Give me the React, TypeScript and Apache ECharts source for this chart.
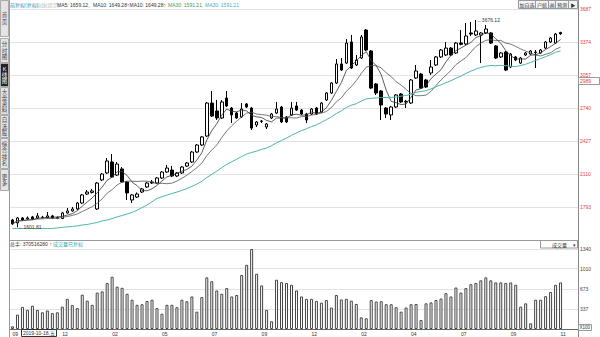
import React, { useEffect, useRef } from "react";
import * as echarts from "echarts";

// ---------- data ----------
// [open, close, low, high] per week
const candles: number[][] = [
  [1672, 1634, 1624, 1682], [1644, 1691, 1602, 1701], [1691, 1672, 1663, 1701], [1682, 1691, 1672, 1706],
  [1701, 1682, 1672, 1711], [1691, 1711, 1682, 1739], [1699, 1696, 1688, 1711], [1695, 1711, 1688, 1748],
  [1711, 1691, 1682, 1720], [1689, 1694, 1680, 1706], [1686, 1739, 1680, 1750], [1739, 1758, 1733, 1786],
  [1758, 1777, 1750, 1796], [1777, 1834, 1767, 1844], [1834, 1911, 1825, 1920], [1920, 1939, 1911, 1958],
  [1935, 1949, 1925, 1968], [1777, 2025, 1767, 2035], [2054, 2111, 2044, 2121], [2121, 2235, 2111, 2264],
  [2226, 2082, 2073, 2302], [2101, 2206, 2092, 2226], [2159, 2035, 2025, 2178], [2035, 1930, 1863, 2044],
  [1863, 1911, 1834, 1920], [1891, 1920, 1882, 1935], [1939, 1968, 1930, 1977], [1987, 2025, 1977, 2035],
  [2035, 2025, 2016, 2054], [2025, 2073, 2016, 2082], [2073, 2130, 2063, 2140], [2130, 2168, 2121, 2197],
  [2149, 2092, 2082, 2187], [2092, 2121, 2082, 2130], [2121, 2178, 2111, 2187], [2187, 2216, 2178, 2226],
  [2226, 2321, 2216, 2331], [2321, 2388, 2312, 2398], [2388, 2465, 2378, 2474], [2474, 2789, 2465, 2799],
  [2789, 2665, 2656, 2904], [2713, 2646, 2627, 2818], [2646, 2799, 2636, 2818], [2837, 2761, 2751, 2904],
  [2741, 2675, 2598, 2751], [2694, 2646, 2636, 2703], [2656, 2732, 2646, 2789], [2780, 2751, 2741, 2789],
  [2741, 2550, 2531, 2751], [2579, 2608, 2560, 2617], [2617, 2615, 2598, 2627], [2560, 2589, 2541, 2598],
  [2646, 2684, 2636, 2694], [2694, 2732, 2684, 2799], [2751, 2608, 2598, 2761], [2656, 2608, 2598, 2665],
  [2675, 2741, 2665, 2799], [2761, 2722, 2713, 2799], [2722, 2684, 2675, 2732], [2684, 2627, 2598, 2694],
  [2684, 2732, 2675, 2741], [2741, 2684, 2675, 2751], [2703, 2789, 2694, 2799], [2818, 2885, 2808, 2894],
  [2885, 2980, 2875, 2990], [2980, 3162, 2971, 3209], [3162, 3104, 3095, 3219], [3171, 3362, 3162, 3400],
  [3372, 3123, 3114, 3439], [3152, 3200, 3143, 3248], [3219, 3420, 3209, 3439], [3486, 3295, 3286, 3496],
  [3286, 2932, 2923, 3295], [2971, 2885, 2866, 2980], [2904, 2770, 2627, 2913], [2741, 2684, 2646, 2751],
  [2675, 2751, 2627, 2761], [2751, 2866, 2741, 2875], [2875, 2799, 2789, 2885], [2805, 2799, 2741, 2818],
  [2789, 3009, 2780, 3019], [3028, 3095, 3019, 3152], [3066, 2932, 2923, 3076], [3009, 2942, 2932, 3019],
  [3076, 3133, 3057, 3200], [3152, 3229, 3143, 3238], [3229, 3295, 3219, 3305], [3248, 3314, 3238, 3372],
  [3314, 3248, 3238, 3324], [3267, 3362, 3257, 3372], [3362, 3350, 3340, 3486], [3353, 3429, 3343, 3553],
  [3458, 3448, 3429, 3563], [3439, 3477, 3429, 3582], [3439, 3458, 3171, 3467], [3458, 3496, 3448, 3534],
  [3458, 3362, 3353, 3467], [3334, 3219, 3209, 3343], [3229, 3267, 3219, 3276], [3276, 3104, 3095, 3286],
  [3133, 3257, 3123, 3267], [3229, 3200, 3190, 3238], [3171, 3219, 3162, 3229], [3248, 3267, 3238, 3276],
  [3257, 3286, 3248, 3295], [3270, 3276, 3123, 3295], [3267, 3295, 3257, 3305], [3314, 3372, 3305, 3381],
  [3372, 3410, 3362, 3420], [3362, 3448, 3353, 3458], [3462, 3450, 3440, 3470],
];

const volumes: number[] = [
  45, 240, 370, 320, 390, 320, 280, 310, 265, 280,
  375, 505, 400, 350, 575, 475, 405, 610, 630, 770,
  875, 710, 690, 590, 490, 405, 415, 470, 490, 350,
  255, 405, 405, 365, 490, 465, 545, 290, 535, 865,
  800, 645, 590, 685, 545, 570, 905, 1075, 1340, 925,
  730, 320, 130, 825, 785, 770, 740, 645,
  545, 505, 505, 470, 440, 485, 360, 570, 495, 505,
  475, 420, 195, 180, 485, 460, 465, 415, 415, 365,
  290, 360, 415, 420, 150, 430, 445, 485, 510, 600,
  545, 695, 610, 685, 750, 770, 815, 865, 815, 780,
  780, 770, 780, 740, 375, 430, 95, 490, 490, 550,
  620, 740, 780,
];

// MA30 for the first 29 weeks (window reaches before the chart)
const ma30Head: number[] = [
  1591, 1591, 1591, 1591, 1591, 1591, 1591, 1591, 1591, 1596, 1601, 1606, 1610, 1615, 1624,
  1629, 1639, 1648, 1663, 1672, 1686, 1701, 1715, 1729, 1744, 1765, 1790, 1815, 1845,
];

const tickIndex: number[] = [0, 10, 20, 30, 40, 50, 60, 70, 80, 90, 100, 110];
const tickLabels: string[] = ["09", "12", "02", "05", "07", "09", "12", "02", "04", "07", "09", "11"];
const priceTicks: number[] = [3687, 3374, 3057, 2740, 2427, 2110, 1793];
const volumeTicks: number[] = [1340, 1010, 673, 337];
const lowMark = { index: 1, value: 1602, label: "1601.81" };
const highMark = { index: 93, value: 3582, label: "3676.12" };

const categories: string[] = (() => {
  const out: string[] = [];
  const d = new Date(Date.UTC(2019, 9, 11));
  for (let i = 0; i < candles.length; i++) {
    out.push(d.toISOString().slice(0, 10));
    d.setUTCDate(d.getUTCDate() + 7);
  }
  out.push("", "", "");
  return out;
})();

const closes = candles.map((c) => c[1]);
function movingAverage(n: number): number[] {
  return closes.map((_, i) => {
    const s = Math.max(0, i - n + 1);
    let sum = 0;
    for (let k = s; k <= i; k++) sum += closes[k];
    return +(sum / (i - s + 1)).toFixed(2);
  });
}
const ma5 = movingAverage(5);
const ma10 = movingAverage(10);
const ma30 = movingAverage(30).map((v, i) => (i < 29 ? ma30Head[i] : v));

const FONT = '"Liberation Sans", Arial, "Noto Sans CJK SC", sans-serif';
const RED = "#e8403a";

const txt = (x: number, y: number, text: string, fill: string, size = 5, align = "left", extra: any = {}) => ({
  type: "text",
  x,
  y,
  silent: true,
  z: 20,
  style: { text, fill, fontSize: size, fontFamily: FONT, align, verticalAlign: "middle", ...extra },
});
const rect = (x: number, y: number, w: number, h: number, fill: string, stroke: string) => ({
  type: "rect",
  silent: true,
  z: 19,
  shape: { x, y, width: w, height: h },
  style: { fill, stroke, lineWidth: 1 },
});
const line = (x1: number, y1: number, x2: number, y2: number, stroke: string) => ({
  type: "line",
  silent: true,
  z: 18,
  shape: { x1, y1, x2, y2 },
  style: { stroke, lineWidth: 1 },
});

function buildGraphic() {
  const g: any[] = [];
  const tabs: [string, number, number, boolean][] = [
    ["首页", 0, 37, false],
    ["分时图", 38, 63, false],
    ["K线图", 63, 87, true],
    ["大盘资料", 87, 115, false],
    ["自选股", 115, 138, false],
    ["综合排名", 138, 169, false],
    ["更多", 169, 191, false],
  ];
  tabs.forEach(([label, y0, y1, active]) => {
    g.push(rect(0.5, y0 + 0.5, 8, y1 - y0 - 1, active ? "#222" : "#e4e4e4", "#aaa"));
    g.push(
      txt(4.5, (y0 + y1) / 2, label.split("").join("\n"), active ? "#fff" : "#444", 5.5, "center", {
        lineHeight: 6.2,
      })
    );
  });
  g.push(line(9.5, 0, 9.5, 337, "#999"));
  g.push(line(578.5, 0, 578.5, 337, "#888"));
  g.push(line(10, 240.5, 578, 240.5, "#999"));

  // legend row
  g.push(txt(10, 4.5, "前复权(复权)", "#2a8fc0"));
  g.push(txt(36, 4.5, "均线(提示)", "#bbb"));
  g.push(txt(57, 4.5, "MA5: 1659.12,", "#333"));
  g.push(txt(93, 4.5, "MA10: 1649.28", "#333"));
  g.push(txt(127, 4.5, "↑", RED));
  g.push(txt(129.5, 4.5, "MA10: 1649.28", "#333"));
  g.push(txt(163.5, 4.5, "↑", RED));
  g.push(txt(168, 4.5, "MA30: 1591.21,", "#3a9a60"));
  g.push(txt(205, 4.5, "MA30: 1591.21", "#3fb0c0"));

  // top-right buttons
  const btns: [string, number, number][] = [
    ["加自选", 518.5, 17],
    ["户统", 535.5, 13],
    ["画", 548.5, 7],
    ["预测", 555.5, 13],
    ["▶", 568.5, 9],
  ];
  btns.forEach(([t, x, w]) => {
    g.push(rect(x, 0.5, w, 8, "#f4f4f4", "#999"));
    g.push(txt(x + w / 2, 4.5, t, "#333", 5, "center"));
  });

  // current value box on price axis
  g.push(rect(578.5, 77.5, 21, 7, "#fff", "#999"));
  g.push(txt(580, 81, "2989", RED));

  // volume header
  g.push(txt(10, 243.5, "总手: 370516280", "#333"));
  g.push(txt(49.5, 243.5, "↑", RED));
  g.push(txt(53, 243.5, "成交量已复权", "#2aa6b4"));
  g.push(rect(540.5, 240.5, 37, 7.5, "#fff", "#999"));
  g.push(txt(552, 244.5, "成交量", "#333"));
  g.push(txt(574, 244.5, "▾", "#333", 5, "center"));

  // volume unit
  g.push(rect(578.5, 324.5, 13, 6, "#fff", "#999"));
  g.push(txt(579.5, 327.5, "X100", "#333", 4.5));

  // cursor date box
  g.push(rect(21.5, 329.5, 35, 7, "#fff", "#333"));
  g.push(txt(39, 333, "2019-10-18,五", "#333", 5, "center"));
  return g;
}

export default function App() {
  const ref = useRef<HTMLDivElement>(null);
  useEffect(() => {
    document.body.style.margin = "0";
    const chart = echarts.init(ref.current!, null, { renderer: "svg" });
    const labelMap: Record<number, string> = {};
    tickIndex.forEach((idx, k) => (labelMap[idx] = tickLabels[k]));

    const option: any = {
      animation: false,
      textStyle: { fontFamily: FONT },
      grid: [
        { left: 10, right: 22, top: 9, height: 231 },
        { left: 10, right: 22, top: 249, height: 80 },
      ],
      xAxis: [
        {
          type: "category",
          gridIndex: 0,
          data: categories,
          boundaryGap: true,
          axisLine: { show: false },
          axisTick: { show: false },
          axisLabel: { show: false },
          splitLine: { show: false },
        },
        {
          type: "category",
          gridIndex: 1,
          data: categories,
          boundaryGap: true,
          axisLine: { show: true, lineStyle: { color: "#666", width: 1 } },
          axisTick: { show: false },
          splitLine: { show: false },
          axisLabel: {
            show: true,
            interval: (idx: number) => labelMap[idx] !== undefined,
            formatter: (_v: string, idx: number) => labelMap[idx] ?? "",
            align: "left",
            fontSize: 5,
            color: "#333",
            margin: 2,
            hideOverlap: false,
            fontFamily: FONT,
          },
        },
      ],
      yAxis: [
        {
          type: "value",
          gridIndex: 0,
          min: 1480.7,
          max: 3687,
          position: "right",
          axisLine: { show: false },
          axisTick: { show: false },
          axisLabel: { show: false },
          splitLine: { show: false },
        },
        {
          type: "value",
          gridIndex: 1,
          min: 0,
          max: 1340,
          position: "right",
          axisLine: { show: false },
          axisTick: { show: false },
          axisLabel: { show: false },
          splitLine: { show: false },
        },
      ],
      series: [
        {
          name: "grid",
          type: "line",
          xAxisIndex: 0,
          yAxisIndex: 0,
          data: [],
          z: 0,
          markLine: {
            silent: true,
            z: 0,
            symbol: ["none", "none"],
            lineStyle: { color: "#e2e2e2", type: "solid", width: 1 },
            label: {
              show: true,
              position: "end",
              distance: 2,
              color: RED,
              fontSize: 5,
              fontFamily: FONT,
              formatter: (p: any) => String(p.value),
            },
            data: priceTicks.map((v) => ({ yAxis: v })),
          },
        },
        {
          name: "K",
          type: "candlestick",
          xAxisIndex: 0,
          yAxisIndex: 0,
          data: candles,
          barWidth: 3,
          z: 3,
          itemStyle: {
            color: "#fff",
            color0: "#000",
            borderColor: "#000",
            borderColor0: "#000",
            borderWidth: 1,
          },
          markPoint: {
            symbol: "circle",
            symbolSize: 0,
            silent: true,
            label: {
              show: true,
              position: "right",
              distance: 1,
              color: "#333",
              fontSize: 5,
              fontFamily: FONT,
              formatter: (p: any) => "←" + p.name,
            },
            data: [
              { name: lowMark.label, coord: [lowMark.index, lowMark.value] },
              { name: highMark.label, coord: [highMark.index, highMark.value] },
            ],
          },
        },
        {
          name: "MA5",
          type: "line",
          xAxisIndex: 0,
          yAxisIndex: 0,
          data: ma5,
          showSymbol: false,
          z: 4,
          lineStyle: { color: "#333", width: 0.8 },
        },
        {
          name: "MA10",
          type: "line",
          xAxisIndex: 0,
          yAxisIndex: 0,
          data: ma10,
          showSymbol: false,
          z: 4,
          lineStyle: { color: "#555", width: 0.8 },
        },
        {
          name: "MA30",
          type: "line",
          xAxisIndex: 0,
          yAxisIndex: 0,
          data: ma30,
          showSymbol: false,
          z: 4,
          lineStyle: { color: "#4cb5aa", width: 1 },
        },
        {
          name: "VOL",
          type: "bar",
          xAxisIndex: 1,
          yAxisIndex: 1,
          data: volumes,
          barWidth: 3,
          z: 3,
          itemStyle: { color: "#fff", borderColor: "#444", borderWidth: 1 },
          markLine: {
            silent: true,
            z: 0,
            symbol: ["none", "none"],
            lineStyle: { color: "#e2e2e2", type: "solid", width: 1 },
            label: {
              show: true,
              position: "end",
              distance: 2,
              color: "#444",
              fontSize: 5,
              fontFamily: FONT,
              formatter: (p: any) => String(p.value),
            },
            data: volumeTicks.map((v) => ({ yAxis: v })),
          },
        },
      ],
      graphic: buildGraphic(),
    };
    chart.setOption(option);
    return () => chart.dispose();
  }, []);
  return <div ref={ref} style={{ width: 600, height: 337 }} />;
}
